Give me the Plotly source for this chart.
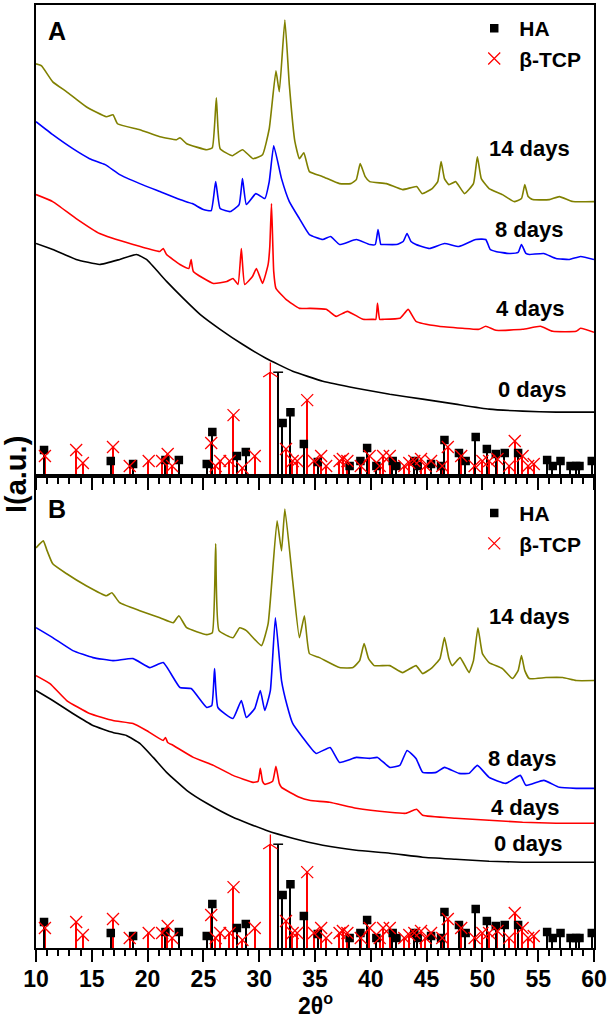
import plotly.graph_objects as go
from plotly.subplots import make_subplots

# ---- panel A: XRD patterns (arbitrary units, offset) ----
a14_x = [10, 10.5, 11.5, 12.75, 14.5, 16.3, 16.9, 17.3, 19.3, 21.1, 22.6, 22.9, 23.5, 25.3, 25.8, 26.16, 26.5,
         27.6, 28.5, 29.45, 30.3, 30.9, 31.5, 31.8, 32.3, 32.7, 33.2, 33.6, 34.0, 34.5, 35.7, 37.2, 38.2, 38.7,
         39.05, 39.5, 39.9, 41.4, 42.85, 44.1, 44.6, 45.5, 46.0, 46.3, 46.6, 47.0, 47.6, 48.4, 49.2, 49.55, 49.9,
         50.6, 51.8, 52.85, 53.5, 53.8, 54.1, 54.5, 56.0, 56.9, 58.1, 60]
a14_y = [413, 411, 395, 385, 370, 360, 362, 353, 347, 340, 337, 339, 333, 327, 329, 379, 328,
         321, 327, 318, 322, 348, 406, 385, 457, 392, 335, 318, 324, 305, 300, 293, 293, 297,
         313, 300, 295, 293, 287, 290, 283, 288, 295, 315, 298, 292, 295, 283, 293, 320, 298,
         288, 282, 275, 278, 292, 280, 277, 277, 280, 275, 275]

a8_x = [10, 11.5, 13.3, 14.8, 16.2, 17.5, 19.3, 21.1, 22.9, 24.0, 25.0, 25.7, 26.1, 26.5, 27.4, 28.2, 28.5,
        28.85, 29.7, 30.5, 30.9, 31.3, 32.0, 32.7, 33.6, 34.5, 35.7, 36.4, 37.2, 38.7, 39.9, 40.4, 40.65, 40.9,
        41.1, 42.3, 42.9, 43.25, 43.6, 44.05, 45.25, 46.6, 47.9, 49.4, 50.3, 50.7, 51.2, 52.4, 53.2, 53.5, 53.9,
        54.2, 55.5, 56.6, 57.8, 58.8, 60]
a8_y = [355, 342, 328, 318, 312, 302, 293, 285, 277, 273, 267, 266, 295, 268, 265, 272, 298,
        272, 283, 278, 295, 331, 298, 275, 258, 242, 237, 240, 232, 237, 232, 232, 247, 232,
        232, 232, 235, 243, 235, 232, 228, 233, 230, 237, 237, 227, 225, 223, 224, 232, 223,
        222, 223, 218, 217, 220, 217]

a4_x = [10, 11.5, 13.6, 15.7, 18.7, 21.1, 21.4, 21.7, 22.9, 23.7, 23.9, 24.1, 25.9, 27.1, 27.65, 28.1, 28.4,
        28.7, 29.4, 29.75, 30.3, 30.8, 30.95, 31.1, 31.3, 31.5, 32.4, 33.6, 34.5, 36.0, 36.9, 37.9, 39.3, 40.2,
        40.45, 40.6, 40.8, 41.1, 42.6, 43.35, 44.05, 46.1, 48.2, 49.7, 50.3, 51.2, 53.6, 55.2, 56.3, 58.4,
        58.8, 60]
a4_y = [282, 275, 258, 243, 232, 225, 228, 222, 212, 208, 217, 205, 193, 195, 198, 192, 228,
        192, 200, 208, 193, 212, 230, 273, 205, 188, 177, 168, 168, 167, 160, 165, 157, 157,
        157, 173, 157, 157, 158, 167, 155, 150, 148, 147, 150, 146, 147, 150, 145, 145,
        148, 144]

a0_x = [10, 11.5, 13.6, 15.7, 17.5, 19.0, 19.9, 21.7, 23.2, 24.7, 26.5, 28.5, 30.6, 33.0, 35.7, 38.7, 41.7,
        44.65, 47.6, 50.6, 53.6, 56.6, 60]
a0_y = [233, 227, 217, 212, 217, 222, 217, 195, 178, 162, 147, 132, 118, 105, 95, 88, 82,
        77, 72, 67, 65, 64, 64]

# ---- panel B ----
b14_x = [10, 10.65, 11.0, 11.5, 12.75, 14.5, 16.3, 16.8, 17.5, 19.3, 21.1, 22.3, 22.8, 23.5, 25.3, 25.8, 26.1,
         26.4, 27.65, 28.25, 28.85, 30.2, 30.8, 31.6, 32.0, 32.3, 33.0, 33.6, 34.05, 34.5, 35.4, 37.2, 38.4, 39.0,
         39.4, 39.8, 40.3, 41.7, 42.85, 44.05, 44.65, 45.5, 46.2, 46.6, 47.0, 47.3, 48.0, 48.8, 49.2, 49.6, 50.0,
         50.6, 51.8, 52.7, 53.2, 53.5, 53.8, 54.2, 55.7, 57.2, 58.4, 60]
b14_y = [401, 408, 398, 385, 375, 363, 353, 356, 346, 338, 331, 326, 333, 321, 314, 316, 405,
         318, 311, 321, 318, 303, 325, 428, 398, 440, 368, 311, 333, 295, 291, 281, 281, 288,
         305, 290, 283, 283, 276, 283, 275, 281, 290, 311, 290, 283, 291, 276, 288, 321, 295,
         286, 280, 270, 278, 293, 278, 270, 271, 271, 268, 268]

b8_x = [10, 11.5, 13.3, 15.1, 16.9, 18.7, 20.2, 21.4, 22.9, 23.9, 25.3, 25.75, 26.0, 26.3, 27.65, 28.4, 28.85,
        29.6, 30.1, 30.5, 31.0, 31.45, 32.0, 32.5, 33.0, 33.9, 35.1, 36.35, 37.2, 38.7, 39.9, 40.6, 41.7, 42.6,
        43.25, 44.05, 44.65, 45.85, 46.6, 47.9, 48.8, 49.55, 50.6, 52.1, 53.4, 53.9, 55.5, 56.9, 58.4, 60]
b8_y = [321, 311, 298, 291, 288, 290, 281, 286, 261, 260, 241, 243, 280, 241, 230, 248, 231,
        240, 258, 238, 258, 331, 268, 243, 225, 211, 195, 201, 186, 191, 190, 191, 181, 183,
        198, 190, 176, 176, 181, 175, 175, 183, 171, 165, 173, 163, 168, 161, 160, 160]

b4_x = [10, 11.25, 12.75, 14.8, 16.9, 18.7, 19.9, 21.4, 21.6, 21.8, 22.3, 24.1, 25.9, 27.65, 29.45, 29.9, 30.1,
        30.3, 30.5, 31.2, 31.5, 31.8, 32.0, 33.6, 34.5, 36.3, 38.7, 41.7, 43.15, 44.1, 44.65, 47.6, 50.6, 53.6,
        56.6, 60]
b4_y = [273, 265, 248, 235, 228, 225, 218, 208, 211, 206, 203, 191, 183, 173, 166, 167, 180,
        167, 164, 167, 182, 165, 161, 151, 148, 146, 140, 136, 135, 139, 133, 130, 128, 126,
        125, 125]

b0_x = [10, 11.5, 13.3, 15.1, 16.9, 18.1, 19.3, 20.5, 21.7, 23.5, 25.3, 27.65, 30.6, 33.0, 35.7, 38.7, 41.7,
        44.65, 47.6, 50.6, 53.6, 60]
b0_y = [258, 248, 235, 223, 216, 213, 205, 191, 176, 158, 145, 131, 118, 110, 103, 98, 95,
        91, 89, 87, 86, 86]

# ---- reference stick patterns (same in both panels) ----
ha_pos = [10.72, 16.7, 18.7, 21.6, 22.8, 25.3, 25.8, 28.0, 28.8, 31.7, 32.1, 32.8, 34.0, 35.25, 38.1,
          39.07, 39.67, 40.5, 41.96, 42.3, 43.9, 44.2, 45.4, 46.3, 46.6, 47.9, 48.5, 49.4, 50.4, 51.2,
          52.0, 53.2, 55.8, 56.3, 57.0, 57.9, 58.4, 58.7, 59.8]
ha_int = [26, 15, 12, 16, 16, 12, 44, 20, 24, 104, 53, 64, 32, 14, 10,
          15, 28, 10, 15, 10, 15, 10, 12, 10, 36, 23, 15, 39, 27, 22,
          23, 23, 16, 10, 15, 10, 10, 10, 15]

tcp_pos = [10.8, 13.6, 14.2, 16.9, 18.4, 20.1, 21.3, 21.8, 22.2, 25.7, 26.1, 26.5, 27.35, 27.7, 28.5,
           29.6, 31.0, 32.4, 33.0, 33.4, 34.3, 34.9, 35.55, 36.0, 37.2, 37.5, 37.9, 39.1, 39.9, 40.8,
           41.1, 41.7, 43.0, 43.45, 43.9, 44.5, 44.9, 45.4, 46.4, 46.9, 48.1, 49.3, 50.0, 50.6, 51.35,
           52.4, 52.9, 53.6, 54.1, 54.6]
tcp_int = [20, 26, 13, 29, 10, 15, 15, 22, 10, 33, 10, 15, 15, 61, 8,
           20, 104, 27, 15, 15, 76, 15, 20, 10, 15, 17, 15, 10, 20, 10,
           20, 20, 10, 13, 15, 17, 10, 15, 10, 29, 20, 10, 15, 15, 17,
           10, 35, 20, 10, 12]

day_labels = ["14 days", "8 days", "4 days", "0 days"]
colors = ["#808000", "#0000FF", "#FF0000", "#000000"]

FONT = "Liberation Sans, Arial, sans-serif"

fig = make_subplots(rows=2, cols=1, shared_xaxes=True, vertical_spacing=0)
fig.update_yaxes(domain=[473 / 945, 1], row=1, col=1)
fig.update_yaxes(domain=[0, 473 / 945], row=2, col=1)

panels = [
    (1, [(a14_x, a14_y), (a8_x, a8_y), (a4_x, a4_y), (a0_x, a0_y)], "legend"),
    (2, [(b14_x, b14_y), (b8_x, b8_y), (b4_x, b4_y), (b0_x, b0_y)], "legend2"),
]

for row, curves, leg in panels:
    for (cx, cy), c in zip(curves, colors):
        fig.add_trace(go.Scatter(x=cx, y=cy, mode="lines",
                                 line=dict(color=c, width=1.6, shape="spline", smoothing=0.4),
                                 showlegend=False, hoverinfo="skip"), row=row, col=1)
    # sticks
    fig.add_trace(go.Bar(x=tcp_pos, y=tcp_int, width=0.13, marker=dict(color="#FF0000", line_width=0),
                         showlegend=False), row=row, col=1)
    fig.add_trace(go.Bar(x=ha_pos, y=ha_int, width=0.13, marker=dict(color="#000000", line_width=0),
                         showlegend=False), row=row, col=1)
    ha_sym = ["square" if h < 100 else "line-ew-open" for h in ha_int]
    tcp_sym = ["x-thin-open" if h < 100 else "y-up-open" for h in tcp_int]
    fig.add_trace(go.Scatter(x=ha_pos, y=ha_int, mode="markers", name="HA", legend=leg,
                             marker=dict(symbol=ha_sym, size=7, color="#000000",
                                         line=dict(color="#000000", width=1.5))),
                  row=row, col=1)
    fig.add_trace(go.Scatter(x=tcp_pos, y=tcp_int, mode="markers", name="β-TCP", legend=leg,
                             marker=dict(symbol=tcp_sym, size=12, color="#FF0000",
                                         line=dict(color="#FF0000", width=1.3))),
                  row=row, col=1)

# day labels
label_pos_a = [(54.2, 328), (54.2, 247), (54.35, 168), (54.45, 87)]
label_pos_b = [(54.2, 332), (53.6, 190), (53.9, 141), (54.1, 105)]
for (lx, ly), txt in zip(label_pos_a, day_labels):
    fig.add_annotation(x=lx, y=ly, xref="x", yref="y", text=txt, showarrow=False,
                       font=dict(family=FONT, size=22, color="black", weight="bold"))
for (lx, ly), txt in zip(label_pos_b, day_labels):
    fig.add_annotation(x=lx, y=ly, xref="x2", yref="y2", text=txt, showarrow=False,
                       font=dict(family=FONT, size=22, color="black", weight="bold"))


def paper_note(px, py, text, size, angle=0):
    fig.add_annotation(x=(px - 36) / 559, y=(948 - py) / 945, xref="paper", yref="paper",
                       xanchor="center", yanchor="middle", text=text, textangle=angle,
                       showarrow=False, font=dict(family=FONT, size=size, color="black", weight="bold"))


# panel letters and axis titles
paper_note(57, 29, "A", 25)
paper_note(57, 508, "B", 25)
paper_note(16, 474, "I(a.u.)", 29, angle=-90)
paper_note(316, 1004, "2θ<sup>o</sup>", 23)

axis_common = dict(range=[10, 60], showline=True, linecolor="black", linewidth=2, mirror=True,
                   ticks="outside", ticklen=12, tickwidth=2, tickcolor="black", dtick=5, tick0=10,
                   minor=dict(ticks="outside", ticklen=6, tickwidth=2, tickcolor="black", dtick=1),
                   showgrid=False, zeroline=False)
fig.update_xaxes(**axis_common)
fig.update_xaxes(showticklabels=False, row=1, col=1)
fig.update_xaxes(showticklabels=True, ticklabelstandoff=-3,
                 tickfont=dict(family=FONT, size=23, color="black", weight="bold"),
                 row=2, col=1)
fig.update_yaxes(showline=True, linecolor="black", linewidth=2, mirror=True, ticks="",
                 showticklabels=False, showgrid=False, zeroline=False)
fig.update_yaxes(range=[0, 472], row=1, col=1)
fig.update_yaxes(range=[0, 473], row=2, col=1)

legend_style = dict(font=dict(family=FONT, size=21, color="black", weight="bold"),
                    bgcolor="rgba(0,0,0,0)", itemwidth=40, tracegroupgap=0,
                    xanchor="left", yanchor="top")
fig.update_layout(
    width=610, height=1023,
    margin=dict(l=36, r=15, t=3, b=75),
    paper_bgcolor="white", plot_bgcolor="white",
    barmode="overlay", bargap=0,
    legend=dict(x=(470 - 36) / 559, y=(948 - 6) / 945, **legend_style),
    legend2=dict(x=(470 - 36) / 559, y=(948 - 492) / 945, **legend_style),
)

fig.write_html("out.html", config={"displayModeBar": False},
               post_script="document.body.style.margin='0px';")
